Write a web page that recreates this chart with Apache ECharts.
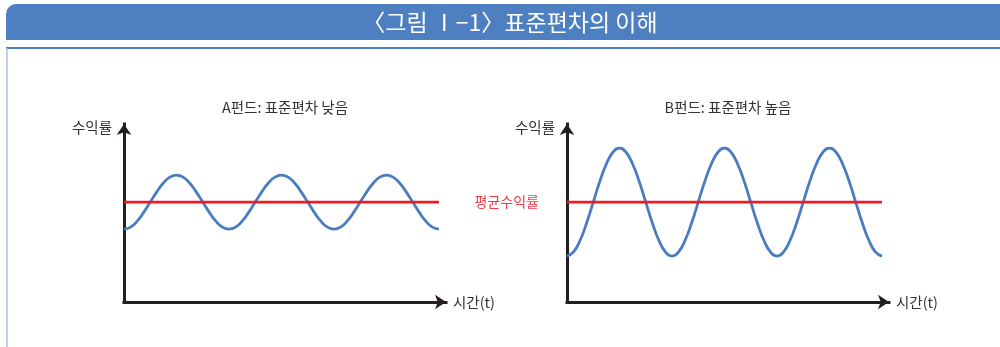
<!DOCTYPE html>
<html>
<head>
<meta charset="utf-8">
<script src="https://cdn.jsdelivr.net/npm/echarts@6/dist/echarts.min.js"></script>
<style>
  html, body { margin: 0; padding: 0; background: #ffffff; }
  #chart { width: 1000px; height: 347px; }
</style>
</head>
<body>
<div id="chart"></div>
<script>
// Figure heading and labels
const figureTitle = '〈그림 Ⅰ−1〉표준편차의 이해';
const panelTitles = ['A펀드: 표준편차 낮음', 'B펀드: 표준편차 높음'];
const yAxisName = '수익률';
const xAxisName = '시간(t)';
const meanLabel = '평균수익률';

// Time points: three full cycles in sixteenth-cycle steps
const times = [0, 0.0625, 0.125, 0.1875, 0.25, 0.3125, 0.375, 0.4375,
               0.5, 0.5625, 0.625, 0.6875, 0.75, 0.8125, 0.875, 0.9375,
               1, 1.0625, 1.125, 1.1875, 1.25, 1.3125, 1.375, 1.4375,
               1.5, 1.5625, 1.625, 1.6875, 1.75, 1.8125, 1.875, 1.9375,
               2, 2.0625, 2.125, 2.1875, 2.25, 2.3125, 2.375, 2.4375,
               2.5, 2.5625, 2.625, 2.6875, 2.75, 2.8125, 2.875, 2.9375, 3];

// Return paths: fund A swings narrowly, fund B widely, around the same mean
const fundA = [4.5, 4.61, 4.94, 5.43, 6, 6.57, 7.06, 7.39, 7.5, 7.39, 7.06, 6.57, 6, 5.43, 4.94, 4.61,
               4.5, 4.61, 4.94, 5.43, 6, 6.57, 7.06, 7.39, 7.5, 7.39, 7.06, 6.57, 6, 5.43, 4.94, 4.61,
               4.5, 4.61, 4.94, 5.43, 6, 6.57, 7.06, 7.39, 7.5, 7.39, 7.06, 6.57, 6, 5.43, 4.94, 4.61,
               4.5];
const fundB = [3, 3.23, 3.88, 4.85, 6, 7.15, 8.12, 8.77, 9, 8.77, 8.12, 7.15, 6, 4.85, 3.88, 3.23,
               3, 3.23, 3.88, 4.85, 6, 7.15, 8.12, 8.77, 9, 8.77, 8.12, 7.15, 6, 4.85, 3.88, 3.23,
               3, 3.23, 3.88, 4.85, 6, 7.15, 8.12, 8.77, 9, 8.77, 8.12, 7.15, 6, 4.85, 3.88, 3.23,
               3];
const meanReturn = 6;

const FONT = '"Noto Sans CJK KR", "Noto Sans", sans-serif';
const AXIS_COLOR = '#231f20';
const CURVE_COLOR = '#4a7cc0';
const MEAN_COLOR = '#ec1c26';

const chart = echarts.init(document.getElementById('chart'), null, { renderer: 'canvas' });

const gridLefts = [124, 567];

function pairs(ys) {
  return times.map((t, i) => [t, ys[i]]);
}

const grids = gridLefts.map(l => ({ left: l, top: 124, width: 322, height: 178 }));

const xAxes = gridLefts.map((l, i) => ({
  type: 'value', gridIndex: i, min: 0, max: 3.067,
  axisLine: {
    show: true, onZero: false,
    symbol: ['none', 'arrow'], symbolSize: [11, 11],
    lineStyle: { color: AXIS_COLOR, width: 3, cap: 'square' }
  },
  axisTick: { show: false }, axisLabel: { show: false }, splitLine: { show: false },
  name: xAxisName, nameLocation: 'end', nameGap: 7,
  nameTextStyle: { color: '#333', fontSize: 14.5, fontFamily: FONT, verticalAlign: 'middle', padding: [0, 0, 3, 0] }
}));

const yAxes = gridLefts.map((l, i) => ({
  type: 'value', gridIndex: i, min: 0.45, max: 10.34,
  axisLine: {
    show: true, onZero: false,
    symbol: ['none', 'arrow'], symbolSize: [11, 11],
    lineStyle: { color: AXIS_COLOR, width: 3, cap: 'square' }
  },
  axisTick: { show: false }, axisLabel: { show: false }, splitLine: { show: false },
  name: yAxisName, nameLocation: 'end', nameGap: -3,
  nameTextStyle: { color: '#333', fontSize: 14.5, fontFamily: FONT, align: 'right', verticalAlign: 'middle', padding: [0, 12, 0, 0] }
}));

const series = [];
[fundA, fundB].forEach((ys, i) => {
  series.push({
    type: 'line', xAxisIndex: i, yAxisIndex: i,
    data: pairs(ys), smooth: true, showSymbol: false, symbol: 'none',
    lineStyle: { color: CURVE_COLOR, width: 2.8 },
    silent: true, z: 2
  });
  const first = { value: [times[0], meanReturn] };
  if (i === 1) {
    first.label = {
      show: true, position: 'left', distance: 28, formatter: meanLabel,
      color: '#ee3a43', fontSize: 14, fontFamily: FONT
    };
  }
  series.push({
    type: 'line', xAxisIndex: i, yAxisIndex: i,
    data: [first, [times[times.length - 1], meanReturn]],
    showSymbol: true, symbol: 'circle', symbolSize: 0.01,
    itemStyle: { color: MEAN_COLOR },
    lineStyle: { color: MEAN_COLOR, width: 2.6 },
    silent: true, z: 3
  });
});

const graphic = [
  // heading bar
  { type: 'rect', shape: { x: 6, y: 4, width: 1000, height: 36, r: [10, 4, 0, 0] },
    style: { fill: '#4d7fc1' }, silent: true },
  { type: 'text', x: 510, y: 22,
    style: { text: figureTitle, fill: '#ffffff', font: '23px ' + FONT, align: 'center', verticalAlign: 'middle' },
    silent: true },
  // frame below the heading
  { type: 'line', shape: { x1: 6, y1: 48, x2: 1000, y2: 48 }, style: { stroke: '#4a7ec0', lineWidth: 2 }, silent: true },
  { type: 'line', shape: { x1: 7, y1: 48, x2: 7, y2: 347 }, style: { stroke: '#a9c1e3', lineWidth: 1.5 }, silent: true },
  // panel titles
  { type: 'text', x: 285, y: 107,
    style: { text: panelTitles[0], fill: '#333', font: '14.5px ' + FONT, align: 'center', verticalAlign: 'middle' }, silent: true },
  { type: 'text', x: 728, y: 107,
    style: { text: panelTitles[1], fill: '#333', font: '14.5px ' + FONT, align: 'center', verticalAlign: 'middle' }, silent: true }
];

chart.setOption({
  backgroundColor: '#ffffff',
  animation: false,
  grid: grids,
  xAxis: xAxes,
  yAxis: yAxes,
  series: series,
  graphic: graphic
});
</script>
</body>
</html>
